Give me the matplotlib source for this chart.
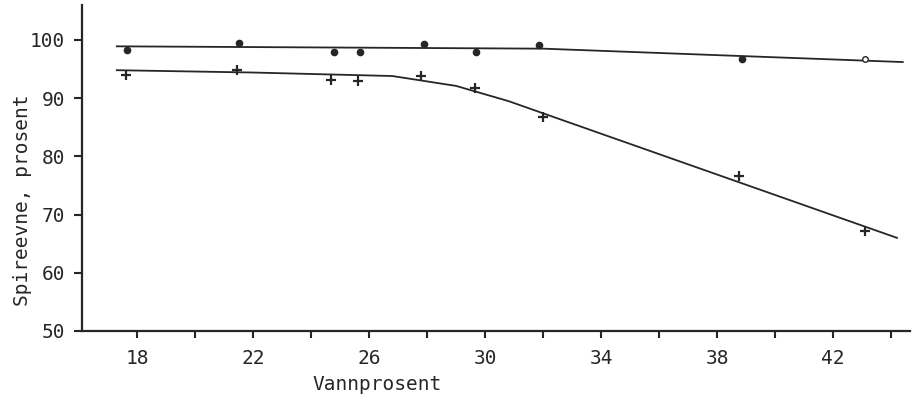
import matplotlib.pyplot as plt
import numpy as np

water = [17.65, 21.5, 24.8, 25.7, 27.9, 29.7, 31.85, 38.86, 43.1]
germ_upper = [98.3, 99.5, 98.0, 98.0, 99.3, 98.0, 99.2, 96.7, 96.7]

water_lower = [17.6, 21.45, 24.7, 25.6, 27.8, 29.65, 32.0, 38.76, 43.1]
germ_lower = [94.0, 94.8, 93.1, 92.9, 93.8, 91.7, 86.7, 76.6, 67.1]

# Hand-drawn fitted curves
fit_upper_x = [17.3, 32.0, 44.4]
fit_upper_y = [98.9, 98.5, 96.2]
fit_lower_x = [17.3, 22.0, 26.8, 29.0, 30.8, 44.2]
fit_lower_y = [94.8, 94.4, 93.8, 92.1, 89.5, 66.0]

x_ticks = np.arange(18, 45, 2)
x_labels = [str(t) if (t - 18) % 4 == 0 else '' for t in x_ticks]
y_ticks = [50, 60, 70, 80, 90, 100]

plt.rcParams['font.family'] = ['DejaVu Sans Mono']
ink = '#262626'

fig = plt.figure(figsize=(9.19, 3.97), dpi=100)
ax = fig.add_axes([82 / 919, 66 / 397, 828 / 919, 326 / 397])

# Curves
ax.plot(fit_upper_x, fit_upper_y, color=ink, lw=1.3)
ax.plot(fit_lower_x, fit_lower_y, color=ink, lw=1.3)

# Points
ax.plot(water[:-1], germ_upper[:-1], 'o', color=ink, ms=4.5)
ax.plot(water[-1:], germ_upper[-1:], 'o', mfc='white', mec=ink, ms=4, mew=1)
ax.plot(water_lower, germ_lower, '+', color=ink, ms=7, mew=1.6)

# Axes
ax.set_xlim(16.1, 44.65)
ax.set_ylim(50, 106)
ax.spines['top'].set_visible(False)
ax.spines['right'].set_visible(False)
ax.spines['left'].set_linewidth(1.6)
ax.spines['bottom'].set_linewidth(1.6)
ax.spines['left'].set_color(ink)
ax.spines['bottom'].set_color(ink)

ax.set_xticks(x_ticks)
ax.set_xticklabels(x_labels)
ax.set_yticks(y_ticks)
ax.tick_params(axis='x', direction='out', length=5, width=1.5, pad=8,
               labelsize=14, colors=ink)
ax.tick_params(axis='y', direction='out', length=6, width=1.5, pad=6,
               labelsize=14, colors=ink)

ax.set_xlabel('Vannprosent', fontsize=14, color=ink)
ax.xaxis.set_label_coords(0.356, -0.135)
ax.set_ylabel('Spireevne, prosent', fontsize=14, color=ink)
ax.yaxis.set_label_coords(-0.06, 0.40)

fig.savefig('out.png', dpi=100)
